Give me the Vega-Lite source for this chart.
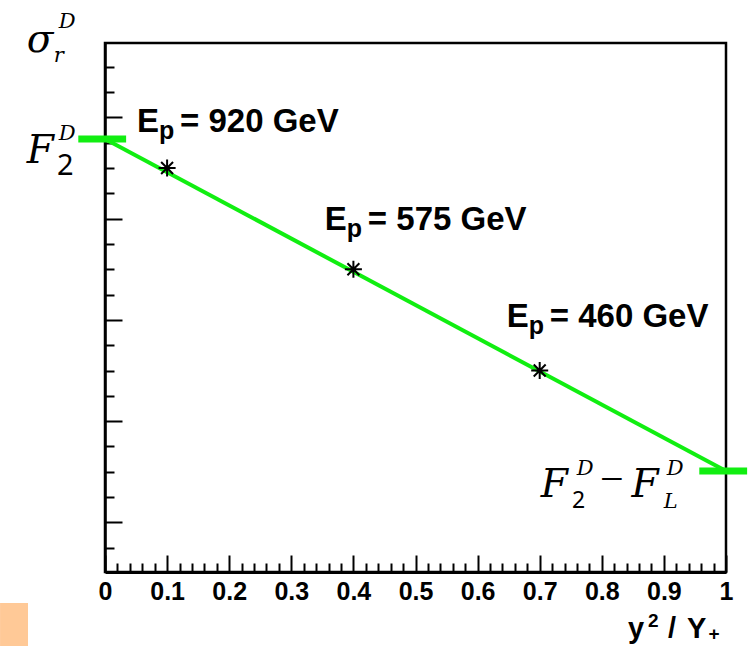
{
  "$schema": "https://vega.github.io/schema/vega-lite/v6.json",
  "width": 621,
  "height": 529,
  "autosize": {"type": "none"},
  "padding": {"left": 105, "top": 43, "right": 25, "bottom": 74},
  "background": "white",
  "config": {"view": {"stroke": "black", "strokeWidth": 2.5}},
  "datasets": {
    "line": [{"x": 0, "y": 3.787}, {"x": 1, "y": 0.508}],
    "bars": [{"x": -0.043, "x2": 0.034, "y": 3.787}, {"x": 0.957, "x2": 1.034, "y": 0.508}],
    "points": [{"x": 0.1, "y": 3.5, "Ep": 920}, {"x": 0.4, "y": 2.5, "Ep": 575}, {"x": 0.7, "y": 1.5, "Ep": 460}],
    "labels": [
      {"x": 0.0515, "y": 3.856, "t": "= 920 GeV"},
      {"x": 0.354, "y": 2.888, "t": "= 575 GeV"},
      {"x": 0.647, "y": 1.93, "t": "= 460 GeV"}
    ],
    "mathBig": [
      {"x": -0.126, "y": 4.646, "t": "σ"},
      {"x": -0.126, "y": 3.55, "t": "F"},
      {"x": 0.7015, "y": 0.251, "t": "F"},
      {"x": 0.848, "y": 0.251, "t": "F"}
    ],
    "minus": [{"x": 0.797, "y": 0.29, "t": "−"}],
    "mathScript": [
      {"x": -0.0745, "y": 4.883, "t": "D"},
      {"x": -0.0825, "y": 4.548, "t": "r"},
      {"x": -0.0745, "y": 3.777, "t": "D"},
      {"x": 0.7597, "y": 0.468, "t": "D"},
      {"x": 0.8998, "y": 0.142, "t": "L"},
      {"x": 0.9046, "y": 0.468, "t": "D"}
    ],
    "sub2Left": [{"x": -0.0773, "y": 3.431, "t": "2"}],
    "sub2Right": [{"x": 0.752, "y": 0.142, "t": "2"}],
    "titleMain": [
      {"x": 0.8422, "y": -1.142, "t": "y"},
      {"x": 0.9066, "y": -1.142, "t": "/"},
      {"x": 0.9372, "y": -1.142, "t": "Y"}
    ],
    "titleScript": [
      {"x": 0.8744, "y": -1.033, "t": "2"},
      {"x": 0.972, "y": -1.165, "t": "+"}
    ],
    "patch": [{"x": -0.169, "x2": -0.124, "y": -0.796, "y2": -1.221}]
  },
  "encoding": {
    "x": {
      "field": "x", "type": "quantitative",
      "scale": {"domain": [0, 1], "nice": false, "zero": false},
      "axis": {
        "values": [0,0.02,0.04,0.06,0.08,0.1,0.12,0.14,0.16,0.18,0.2,0.22,0.24,0.26,0.28,0.3,0.32,0.34,0.36,0.38,0.4,0.42,0.44,0.46,0.48,0.5,0.52,0.54,0.56,0.58,0.6,0.62,0.64,0.66,0.68,0.7,0.72,0.74,0.76,0.78,0.8,0.82,0.84,0.86,0.88,0.9,0.92,0.94,0.96,0.98,1],
        "tickSize": {"condition": {"test": "abs(datum.value*10-round(datum.value*10))<0.001", "value": -17}, "value": -9},
        "labelExpr": "abs(datum.value*10-round(datum.value*10))<0.001 ? format(datum.value,'~g') : ''",
        "tickColor": "black", "tickWidth": 2,
        "domainColor": "black", "domainWidth": 3,
        "grid": false,
        "labelFont": "Liberation Sans", "labelFontWeight": "bold", "labelFontSize": 25,
        "labelColor": "black", "labelPadding": 24, "labelFlush": false, "labelOverlap": false,
        "title": null
      }
    },
    "y": {
      "field": "y", "type": "quantitative",
      "scale": {"domain": [-0.49, 4.735], "nice": false, "zero": false},
      "axis": {
        "values": [-0.25,0,0.25,0.5,0.75,1,1.25,1.5,1.75,2,2.25,2.5,2.75,3,3.25,3.5,3.75,4,4.25,4.5],
        "tickSize": {"condition": {"test": "abs(datum.value-round(datum.value))<0.001", "value": -17}, "value": -9},
        "labels": false,
        "tickColor": "black", "tickWidth": 2,
        "domainColor": "black", "domainWidth": 2.5,
        "grid": false,
        "title": null
      }
    }
  },
  "layer": [
    {
      "data": {"name": "patch"},
      "mark": {"type": "rect", "color": "#ffc997", "clip": false},
      "encoding": {"x2": {"field": "x2"}, "y2": {"field": "y2"}}
    },
    {
      "data": {"name": "line"},
      "mark": {"type": "line", "color": "#11ee11", "strokeWidth": 4},
      "encoding": {}
    },
    {
      "data": {"name": "bars"},
      "mark": {"type": "rule", "color": "#11ee11", "strokeWidth": 7, "strokeCap": "butt", "clip": false},
      "encoding": {"x2": {"field": "x2"}}
    },
    {
      "data": {"name": "points"},
      "mark": {"type": "point", "shape": "M-1,0L1,0M0,-1L0,1M-0.7,-0.7L0.7,0.7M-0.7,0.7L0.7,-0.7", "filled": false, "stroke": "black", "strokeWidth": 2, "size": 290, "opacity": 1}
    },
    {
      "data": {"name": "labels"},
      "mark": {"type": "text", "text": "E", "font": "Liberation Sans", "fontWeight": "bold", "fontSize": 33, "align": "left", "baseline": "alphabetic", "color": "black"}
    },
    {
      "data": {"name": "labels"},
      "mark": {"type": "text", "text": "p", "font": "Liberation Sans", "fontWeight": "bold", "fontSize": 25, "align": "left", "baseline": "alphabetic", "dx": 22, "dy": 7, "color": "black"}
    },
    {
      "data": {"name": "labels"},
      "mark": {"type": "text", "font": "Liberation Sans", "fontWeight": "bold", "fontSize": 33, "align": "left", "baseline": "alphabetic", "dx": 43, "color": "black"},
      "encoding": {"text": {"field": "t"}}
    },
    {
      "data": {"name": "mathBig"},
      "mark": {"type": "text", "font": "DejaVu Serif", "fontStyle": "italic", "fontSize": 39, "align": "left", "baseline": "alphabetic", "color": "black"},
      "encoding": {"text": {"field": "t"}}
    },
    {
      "data": {"name": "minus"},
      "mark": {"type": "text", "font": "Liberation Serif", "fontSize": 42, "align": "left", "baseline": "alphabetic", "color": "black"},
      "encoding": {"text": {"field": "t"}}
    },
    {
      "data": {"name": "mathScript"},
      "mark": {"type": "text", "font": "DejaVu Serif", "fontStyle": "italic", "fontSize": 21, "align": "left", "baseline": "alphabetic", "color": "black"},
      "encoding": {"text": {"field": "t"}}
    },
    {
      "data": {"name": "sub2Left"},
      "mark": {"type": "text", "font": "Noto Sans", "fontSize": 29, "align": "left", "baseline": "alphabetic", "color": "black"},
      "encoding": {"text": {"field": "t"}}
    },
    {
      "data": {"name": "sub2Right"},
      "mark": {"type": "text", "font": "Noto Sans", "fontSize": 23, "align": "left", "baseline": "alphabetic", "color": "black"},
      "encoding": {"text": {"field": "t"}}
    },
    {
      "data": {"name": "titleMain"},
      "mark": {"type": "text", "font": "Liberation Sans", "fontWeight": "bold", "fontSize": 29, "align": "left", "baseline": "alphabetic", "color": "black"},
      "encoding": {"text": {"field": "t"}}
    },
    {
      "data": {"name": "titleScript"},
      "mark": {"type": "text", "font": "Liberation Sans", "fontWeight": "bold", "fontSize": 19, "align": "left", "baseline": "alphabetic", "color": "black"},
      "encoding": {"text": {"field": "t"}}
    }
  ]
}
